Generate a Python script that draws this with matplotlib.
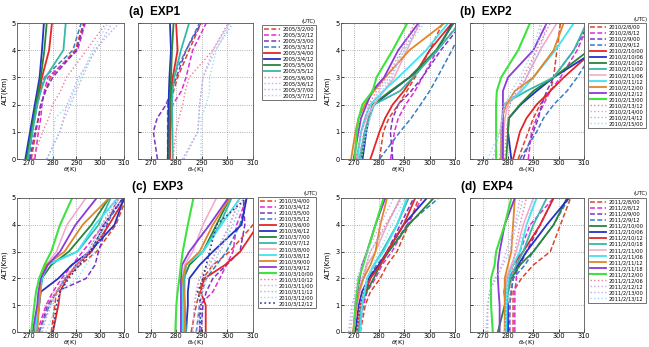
import matplotlib.pyplot as plt

# altitude levels (km) at which the profiles were read
ALT = [0, 1, 1.5, 2, 2.5, 3, 4, 5]

# ---------------- (a) EXP1 ----------------
exp1_times = ['2005/3/2/00', '2005/3/2/12', '2005/3/3/00', '2005/3/3/12', '2005/3/4/00', '2005/3/4/12',
              '2005/3/5/00', '2005/3/5/12', '2005/3/6/00', '2005/3/6/12', '2005/3/7/00', '2005/3/7/12']
exp1_theta = [
    [271, 273, 274, 275, 277, 279, 289.5, 293],
    [272.5, 274, 275, 275.5, 276.5, 278, 290.5, 293.7],
    [270.5, 272.5, 274, 275, 277, 280, 290, 293.3],
    [270, 271.5, 272.5, 273.5, 275, 276.5, 288.5, 292],
    [269, 271, 272, 273.5, 274.5, 275.5, 278.5, 279.7],
    [268.5, 270.5, 271.5, 272.5, 273.5, 274.5, 275.5, 276.3],
    [269, 271, 272, 273, 274, 275, 276.5, 277.5],
    [269.5, 271.5, 272.5, 273.5, 275, 277, 284.5, 285.5],
    [271.7, 275.8, 278.3, 280, 283.3, 285.8, 294.2, 302.5],
    [277.5, 283, 284.5, 286, 288.5, 290.8, 298.3, 305],
    [277.5, 283, 285, 287.5, 290, 292.5, 297.5, 308],
    [280, 280.5, 281, 286.7, 289, 291.7, 296.7, 303.3],
]
exp1_theta_e = [
    [276.6, 277, 277.3, 277.9, 278.9, 280.5, 285, 289.7],
    [277.2, 277.5, 277.8, 278.6, 282, 283.8, 286.4, 291.7],
    [272.6, 271, 272.5, 276, 277.9, 280, 283.8, 289.7],
    [276.6, 276.6, 276.6, 276.6, 277.5, 278.6, 283.8, 289.1],
    [277.5, 277.7, 277.9, 277.9, 278.2, 278.6, 280.5, 279.9],
    [276.7, 276.8, 276.9, 277, 277.1, 277.3, 277.9, 277.5],
    [277.2, 277.3, 277.4, 277.5, 277.6, 277.9, 278.3, 278.9],
    [278.6, 278.5, 278.4, 278.3, 278.5, 279.2, 281.8, 285],
    [278.6, 279.9, 281, 282.5, 283.5, 285, 294.3, 300.3],
    [283, 288.4, 288.8, 289.1, 289.8, 290.4, 294.3, 300.9],
    [282.4, 288.4, 288.8, 289.1, 289.8, 290.4, 295.3, 302.2],
    [289.7, 289.7, 289.7, 291.7, 293, 293, 295.7, 300.9],
]

# ---------------- (b) EXP2 ----------------
exp2_times = ['2010/2/8/00', '2010/2/8/12', '2010/2/9/00', '2010/2/9/12', '2010/2/10/00', '2010/2/10/06',
              '2010/2/10/12', '2010/2/11/00', '2010/2/11/06', '2010/2/11/12', '2010/2/12/00', '2010/2/12/12',
              '2010/2/13/00', '2010/2/13/12', '2010/2/14/00', '2010/2/14/12', '2010/2/15/00']
exp2_theta = [
    [280.2, 281.7, 283.9, 287.6, 291, 294.2, 300, 305.1],
    [284.6, 286.1, 287.6, 290.5, 294.2, 297.1, 303, 311.7],
    [285.4, 284.5, 285.4, 287.6, 292.7, 297.1, 304.4, 313],
    [280.2, 288.3, 292.7, 296.4, 300, 303, 308.8, 314],
    [276.6, 280.2, 282.4, 285.4, 289.8, 293.4, 300, 308.8],
    [273.5, 275, 276, 278, 285, 292, 303, 309],
    [273, 274.4, 275.9, 277.5, 284.5, 292, 302.5, 309.5],
    [272.2, 274.4, 275.9, 278, 288.3, 293.4, 303, 312],
    [271, 273, 275, 278, 282, 286, 291, 296],
    [271.5, 272.9, 274.4, 276.6, 281.7, 287.6, 298.6, 307.3],
    [269, 270.7, 271.9, 274.4, 278, 282.4, 292, 305.9],
    [270, 271.9, 272.9, 275.1, 277.3, 282, 287.6, 295.6],
    [270.5, 271.2, 272, 273.4, 277.5, 279, 285.4, 291.2],
    [271, 273, 274.5, 276, 279, 283, 289, 294],
    [272, 274, 275.5, 277, 280, 284, 290, 296],
    [272, 275, 276.5, 278, 282, 285, 289, 297],
    [273, 275, 276.5, 278, 281, 285, 290, 298],
]
exp2_theta_e = [
    [284, 288, 290, 292.7, 296.7, 298, 299.3, 300.7],
    [288, 289.3, 291.3, 294, 296.7, 300.7, 307.3, 312],
    [286, 290, 292, 293.3, 295.3, 298, 306, 312],
    [284.7, 291.3, 294, 298, 303.3, 307.3, 314, 320],
    [282, 284.7, 287.3, 291.3, 296.7, 302, 314, 320],
    [281.3, 280, 280.3, 285, 291.3, 298, 315, 320],
    [279.3, 280, 280.3, 284.7, 290, 298, 312, 318],
    [277.3, 277.6, 277.8, 278, 287.3, 298, 306, 311],
    [278, 278.3, 278.8, 280, 284.7, 287.3, 292.7, 299.3],
    [277.3, 277.6, 277.7, 278.7, 285.3, 290, 298.7, 306],
    [277.3, 277.3, 277.6, 279.3, 282.7, 290, 298, 302],
    [278, 278, 278, 278, 278, 280, 290, 295.3],
    [275.3, 275.3, 275.3, 275.3, 275.6, 277.3, 284, 288.7],
    [278.7, 279.3, 280, 280.7, 283.3, 286, 291.3, 296.7],
    [274, 276.7, 277.7, 278.7, 283.3, 287.3, 291.3, 293.3],
    [276.7, 277.3, 277.7, 278, 285.3, 287.3, 292.7, 295.3],
    [272, 276.7, 277.7, 278.7, 281.3, 284.7, 290, 292.7],
]

# ---------------- (c) EXP3 ----------------
exp3_times = ['2010/3/4/00', '2010/3/4/12', '2010/3/5/00', '2010/3/5/12', '2010/3/6/00', '2010/3/6/12',
              '2010/3/7/00', '2010/3/7/12', '2010/3/8/00', '2010/3/8/12', '2010/3/9/00', '2010/3/9/12',
              '2010/3/10/00', '2010/3/10/12', '2010/3/11/00', '2010/3/11/12', '2010/3/12/00', '2010/3/12/12']
exp3_theta = [
    [279.4, 280.9, 281.6, 285.5, 291.5, 298.5, 306.6, 311],
    [273.5, 277.2, 280.1, 283.8, 288.2, 292.6, 301.5, 309.6],
    [274.3, 277.9, 281.6, 294.1, 297.8, 299.3, 302.9, 307.4],
    [274.3, 278.7, 281.6, 285.3, 290.4, 295.6, 302.2, 309.6],
    [280.1, 282.4, 283.1, 286, 289.8, 296.3, 303.7, 310.5],
    [272.8, 274.3, 275, 282.4, 288, 295.6, 306, 310],
    [272.5, 274, 274.5, 275.4, 279.4, 286.8, 296.3, 303.7],
    [273.1, 274.3, 274.8, 275.7, 277.2, 290.4, 299.3, 304.4],
    [272.8, 273.8, 274.5, 275, 277.2, 281.6, 286, 294],
    [272.8, 274, 274.7, 275.4, 277.9, 290.4, 297.8, 307.4],
    [273.5, 274.3, 274.8, 275, 277.2, 285, 292.6, 303.7],
    [271.6, 273.5, 274, 275, 277.9, 283.1, 289.6, 298.5],
    [271, 272.3, 273, 274.3, 276.5, 279.4, 283.1, 288.2],
    [275, 277.2, 281.6, 284.6, 290.4, 294.9, 300.7, 308.1],
    [275.7, 278.7, 281.6, 286, 290.4, 295.6, 302.2, 308.1],
    [275, 279.4, 282.4, 284.6, 289.6, 294.9, 300.7, 306.6],
    [277.2, 281.6, 283.1, 290.4, 294.1, 297.8, 302.2, 307.4],
    [280.1, 281.6, 283.1, 286.8, 291.2, 296.3, 301.5, 309.6],
]
exp3_theta_e = [
    [285.8, 287.8, 289.1, 290.4, 294.3, 300.9, 310, 316],
    [289.1, 289.1, 294.3, 297, 299.6, 302.2, 303.6, 307.5],
    [289.7, 290.4, 291.7, 294.3, 299.6, 304.9, 306.8, 306.2],
    [287.8, 289.1, 290, 291.7, 295.7, 299.6, 304.9, 307.5],
    [291.5, 291.5, 289.5, 291, 299, 305, 312, 316],
    [283.8, 284.5, 284.5, 285.1, 289.1, 294.3, 305.5, 307.5],
    [283.2, 283.2, 283, 282.9, 285.1, 290.4, 295.7, 300.9],
    [283.8, 283.2, 283.2, 283.2, 283.8, 290.4, 297, 301.6],
    [282.5, 282.5, 282.5, 282.5, 283.2, 286.4, 290.4, 295.7],
    [282.5, 282.2, 282.3, 282.5, 283.8, 290.4, 297.6, 304.9],
    [283.2, 283.2, 283, 282.5, 283.8, 289.1, 294.3, 300.9],
    [281.8, 281.8, 281.8, 281.8, 282.2, 285.1, 293, 300.3],
    [279.6, 280, 280.5, 281.2, 281.8, 282.5, 284.5, 286.7],
    [286.4, 287.1, 287.8, 289.1, 293, 295.7, 300.9, 304.9],
    [287.8, 289.1, 290.4, 291.7, 294.3, 297, 302.2, 306.2],
    [286.4, 287.1, 287.8, 289.1, 292, 295.7, 300.9, 304.9],
    [289.1, 289.7, 289.7, 291.7, 294.3, 297, 302.2, 306.2],
    [289.1, 289.7, 288.4, 290.4, 291.7, 293, 295.7, 307.5],
]

# ---------------- (d) EXP4 ----------------
exp4_times = ['2011/2/8/00', '2011/2/8/12', '2011/2/9/00', '2011/2/9/12', '2011/2/10/00', '2011/2/10/06',
              '2011/2/10/12', '2011/2/10/18', '2011/2/11/00', '2011/2/11/06', '2011/2/11/12', '2011/2/11/18',
              '2011/2/12/00', '2011/2/12/06', '2011/2/12/12', '2011/2/13/00', '2011/2/13/12']
exp4_theta = [
    [272.6, 274.6, 276.6, 280.5, 283.2, 287.1, 291.7, 295.7],
    [272, 273.9, 275.3, 278.6, 281.2, 285.1, 291.1, 297],
    [271.3, 273.3, 275, 276.6, 279.9, 283.2, 288.4, 293.7],
    [270.7, 272.6, 274, 275.9, 279, 283.8, 291.1, 303.6],
    [271.1, 272.6, 275, 277.9, 280.5, 283.8, 291.7, 301.6],
    [270.7, 272, 273.3, 275.9, 279.9, 283.2, 289.7, 298.9],
    [271.3, 272.6, 274.5, 276.6, 280.5, 283.2, 289.7, 294.3],
    [272, 273.3, 274.5, 275.3, 278, 281.2, 287.1, 291.7],
    [270, 271.3, 272.5, 273.9, 275.3, 278.6, 283.2, 288.4],
    [272.6, 273.3, 274.3, 275.3, 277.9, 281.8, 287.1, 291.1],
    [269.7, 271.1, 272, 273.9, 276.6, 278.6, 280.5, 283.2],
    [270, 270.7, 271.5, 272.4, 273.3, 275.3, 278.6, 282.5],
    [270, 270.7, 271.3, 272, 273.8, 275.3, 278.6, 281.8],
    [270, 271.3, 272, 273.3, 275, 276.6, 282.5, 289.1],
    [268.7, 270, 270.7, 271.3, 273.3, 275.3, 280.5, 285.8],
    [268, 269.3, 270.7, 273.3, 275, 276.6, 283.2, 288.4],
    [271.3, 272.6, 273.9, 275.3, 277.5, 279.9, 285.1, 290.4],
]
exp4_theta_e = [
    [282, 282, 282, 285.3, 290, 296.7, 300.7, 304.7],
    [282.7, 282.7, 282.7, 283.3, 283.3, 284.7, 288.7, 298],
    [280.7, 280.7, 281.3, 282, 284.7, 287.3, 292.7, 298],
    [280, 280.7, 281.3, 282, 286.7, 290, 298, 304],
    [276, 278.7, 280, 281.3, 284.7, 290, 298, 303.3],
    [280, 280, 279, 280, 284, 287.3, 295.3, 304],
    [278.7, 279.1, 278.5, 279.3, 282, 286, 292.7, 298],
    [279.3, 279.6, 280, 280.7, 283.3, 286, 290, 295.3],
    [279.3, 279.3, 279.3, 279.3, 281.3, 283.3, 286, 290],
    [279.3, 279.3, 279.6, 280, 282, 284.7, 287.3, 291.3],
    [278.7, 278.7, 278.7, 278.7, 280, 281.3, 282, 282.7],
    [276.7, 276.7, 276.3, 276, 276, 276.7, 278.7, 282.7],
    [274, 273.3, 273.3, 273.3, 274.7, 275.3, 278.7, 281.3],
    [280.7, 280.7, 280.7, 281.3, 282, 282.7, 284.7, 287.3],
    [272, 272, 272.7, 274.7, 277.5, 279.3, 282.7, 284.7],
    [271.3, 272, 272.7, 275.3, 278, 280.7, 283.3, 286],
    [278.7, 279.3, 279.6, 280, 282, 283.3, 287.3, 290],
]

# line styles (colour, dash, width)
DASH = (0, (3.2, 1.6))
STY = {
    'r--': ('#d8462c', DASH, 1.1), 'm--': ('#e22ad8', DASH, 1.1),
    'p--': ('#7b35c4', DASH, 1.1), 'b--': ('#3a7cc2', DASH, 1.1),
    'r-': ('#e3262a', '-', 1.3), 'b-': ('#2631c4', '-', 1.3),
    'g-': ('#27853a', '-', 1.3), 't-': ('#38b8a6', '-', 1.3),
    'pk-': ('#f4a6c6', '-', 1.1), 'c-': ('#3fe3f2', '-', 1.3),
    'o-': ('#e0862a', '-', 1.3), 'v-': ('#8a3ad8', '-', 1.3),
    'G-': ('#3ee33e', '-', 1.5), 'pk:': ('#f07898', ':', 1.0),
    'l:': ('#c8a8ec', ':', 1.0), 'lb:': ('#aab4e8', ':', 1.0),
    'lc:': ('#9edcf4', ':', 1.0), 'n:': ('#2e3a8a', ':', 1.2),
}
sty1 = ['r--', 'm--', 'p--', 'b--', 'r-', 'b-', 'g-', 't-', 'pk:', 'l:', 'lb:', 'lc:']
sty2 = ['r--', 'm--', 'p--', 'b--', 'r-', 'b-', 'g-', 't-', 'pk-', 'c-', 'o-', 'v-', 'G-',
        'pk:', 'l:', 'lb:', 'lc:']
sty3 = sty2[:13] + ['pk:', 'l:', 'lb:', 'lc:', 'n:']
sty4 = ['r--', 'm--', 'p--', 'b--', 'g-', 'b-', 'r-', 't-', 'pk-', 'c-', 'o-', 'v-', 'G-',
        'pk:', 'l:', 'lb:', 'lc:']

W, H = 649.0, 347.0
fig = plt.figure(figsize=(6.49, 3.47), dpi=100)


def box(x0, x1, yt, yb):
    return [x0 / W, 1 - yb / H, (x1 - x0) / W, (yb - yt) / H]


def panel(title, times, th, the, sty, cols, rows, tx, leg_xy, ylab_x):
    yt, yb = rows
    ax1 = fig.add_axes(box(cols[0], cols[1], yt, yb))
    ax2 = fig.add_axes(box(cols[2], cols[3], yt, yb))
    for t, a, b, k in zip(times, th, the, sty):
        c, ls, lw = STY[k]
        ax1.plot(a, ALT, color=c, ls=ls, lw=lw)
        ax2.plot(b, ALT, color=c, ls=ls, lw=lw, label=t)
    for ax, xl in ((ax1, r'$\theta$(K)'), (ax2, r'$\theta_e$(K)')):
        ax.set_xlim(265, 310)
        ax.set_ylim(0, 5)
        ax.set_xticks([270, 280, 290, 300, 310])
        ax.set_yticks([0, 1, 2, 3, 4, 5])
        ax.tick_params(direction='in', labelsize=4.8, length=2, width=0.5, pad=0.8)
        ax.grid(True, ls=':', color='#9a9a9a', lw=0.6)
        ax.set_xlabel(xl, fontsize=4.6)
        ax.xaxis.set_label_coords(0.5, -0.042)
        for s in ax.spines.values():
            s.set_linewidth(0.6)
            s.set_color('#555555')
    ax2.set_yticklabels([])
    fig.text(tx / W, 1 - (yt - 11) / H, title, ha='center', va='center',
             fontsize=8.5, fontweight='bold', family='Liberation Sans')
    fig.text(ylab_x / W, 1 - (yt + yb) / 2 / H, 'ALT(Km)', rotation=90,
             ha='center', va='center', fontsize=5)
    h, l = ax2.get_legend_handles_labels()
    lg = fig.legend(h, l, loc='upper left', bbox_to_anchor=(leg_xy[0] / W, 1 - leg_xy[1] / H),
                    fontsize=3.7, frameon=True, fancybox=False, edgecolor='#333333',
                    borderpad=0.35, labelspacing=0.2, handlelength=3.2, handletextpad=0.5,
                    borderaxespad=0)
    lg.get_frame().set_linewidth(0.6)
    fig.text((leg_xy[0] + leg_xy[2]) / W, 1 - (leg_xy[1] - 4) / H, '(UTC)',
             ha='right', va='center', fontsize=3.7)


TOP = (23, 159)
BOT = (198, 332)
LEFT = (17, 124, 138, 253)
RIGHT = (341, 455, 470, 584)

panel('(a)  EXP1', exp1_times, exp1_theta, exp1_theta_e, sty1, LEFT, TOP, 155, (262, 25, 54), 4.5)
panel('(b)  EXP2', exp2_times, exp2_theta, exp2_theta_e, sty2, RIGHT, TOP, 486, (588, 23, 60), 328)
panel('(c)  EXP3', exp3_times, exp3_theta, exp3_theta_e, sty3, LEFT, BOT, 157, (258, 197, 59), 4.5)
panel('(d)  EXP4', exp4_times, exp4_theta, exp4_theta_e, sty4, RIGHT, BOT, 487, (588, 198, 60), 328)

fig.savefig('out.png', dpi=100)
